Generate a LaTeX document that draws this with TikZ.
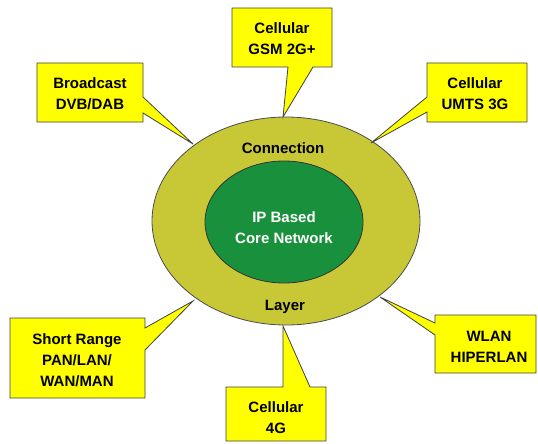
\documentclass[tikz,border=0pt]{standalone}
\usepackage{fontspec}
\setmainfont{Liberation Sans}
\usepackage{tikz}

\definecolor{layerolive}{RGB}{200,200,55}
\definecolor{coregreen}{RGB}{25,145,60}
\definecolor{calloutyellow}{RGB}{255,255,0}

\tikzset{
  callout/.style={fill=calloutyellow, draw=black!75, line width=0.8pt, line join=miter},
  calltext/.style={align=center, font=\bfseries\fontsize{15}{21}\selectfont, text=black},
}

\begin{document}
\begin{tikzpicture}[x=1pt, y=-1pt]
\useasboundingbox (0, 0) rectangle (538, 444);

% connection layer and core
\draw[fill=layerolive, draw=black!70, line width=0.8pt] (286, 221) ellipse [x radius=134, y radius=104];
\draw[fill=coregreen, draw=black!80, line width=0.8pt] (284, 222) ellipse [x radius=79, y radius=61];

\node[calltext] (conn) at (283, 148) {Connection};
\node[calltext] (layer) at (285, 307) {Layer};
\node[calltext, text=white] (core) at (284, 228) {IP Based\\Core Network};

% callouts
\draw[callout] (37, 63) -- (143, 63) -- (143, 97) -- (193, 144) -- (143, 113) -- (143, 122) -- (37, 122) -- cycle;
\draw[callout] (232, 8) -- (332, 8) -- (332, 67) -- (313, 67) -- (283, 117) -- (288, 67) -- (232, 67) -- cycle;
\draw[callout] (427, 63) -- (527, 63) -- (527, 122) -- (427, 122) -- (427, 112) -- (371, 143) -- (427, 97) -- cycle;
\draw[callout] (10, 318) -- (145, 318) -- (145, 328) -- (193, 301) -- (145, 350) -- (145, 398) -- (10, 398) -- cycle;
\draw[callout] (226, 387) -- (283, 387) -- (283, 326) -- (310, 387) -- (326, 387) -- (326, 441) -- (226, 441) -- cycle;
\draw[callout] (435, 315) -- (536, 315) -- (536, 373) -- (435, 373) -- (435, 335) -- (380, 297) -- (435, 323) -- cycle;

\node[calltext] (dvb) at (90, 94) {Broadcast\\DVB/DAB};
\node[calltext] (gsm) at (282, 39) {Cellular\\GSM 2G+};
\node[calltext] (umts) at (475, 94) {Cellular\\UMTS 3G};
\node[calltext] (pan) at (77, 360) {Short Range\\PAN/LAN/\\WAN/MAN};
\node[calltext] (fourg) at (276, 418) {Cellular\\4G};
\node[calltext] (wlan) at (489, 347) {WLAN\\HIPERLAN};
\end{tikzpicture}
\end{document}
